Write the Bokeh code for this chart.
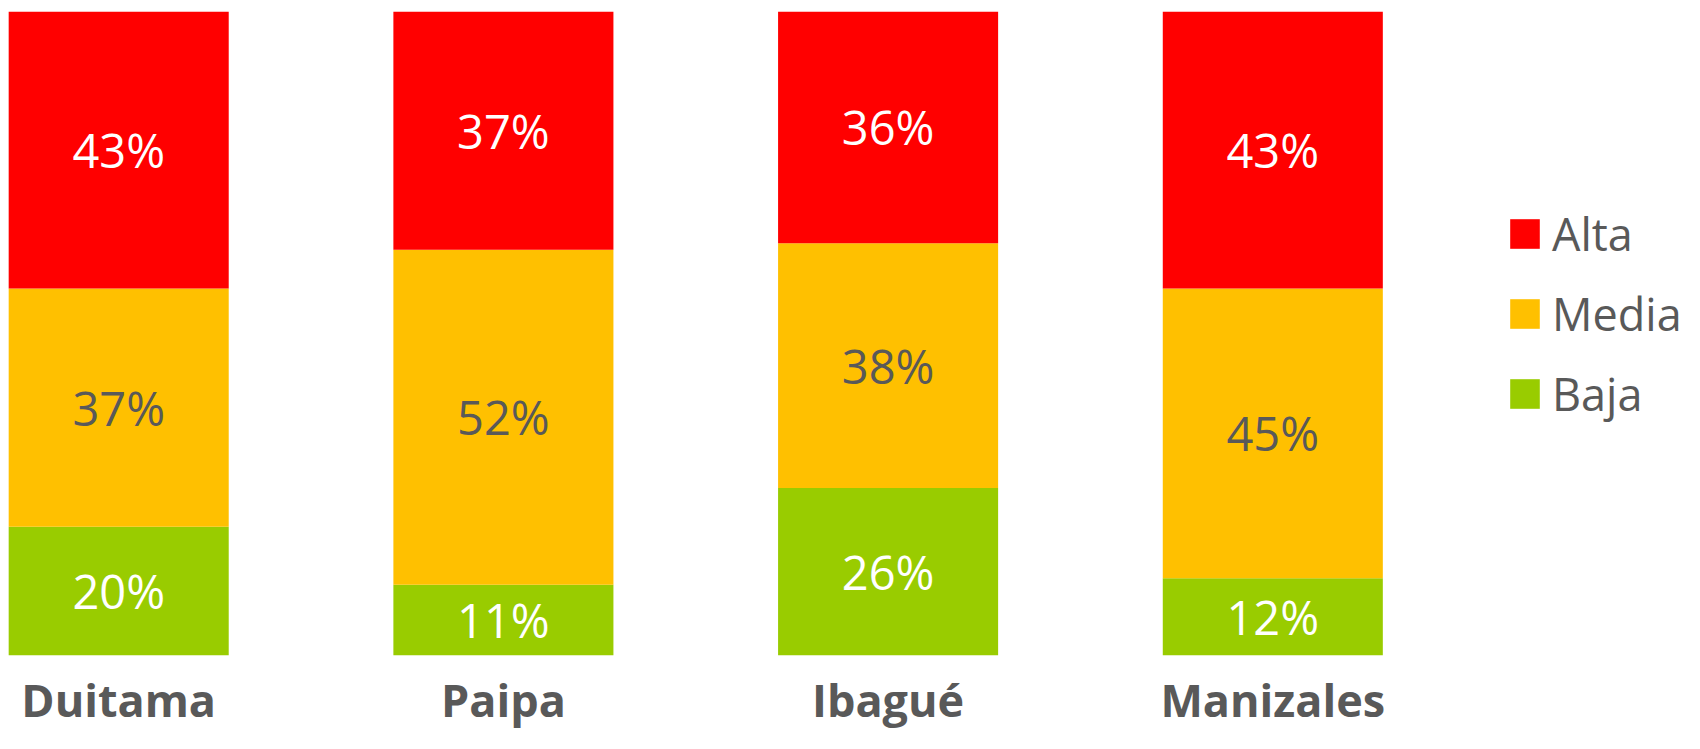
import numpy as np
from bokeh.plotting import figure
from bokeh.models import (ColumnDataSource, FixedTicker, Legend, LegendItem, Range1d)
from bokeh.core.properties import value
from bokeh.embed import file_html
from bokeh.resources import INLINE

categories = ["Duitama", "Paipa", "Ibagué", "Manizales"]
alta = [43, 37, 36, 43]
media = [37, 52, 38, 45]
baja = [20, 11, 26, 12]

series = ["Baja", "Media", "Alta"]
colors = {"Alta": "#FF0000", "Media": "#FFC000", "Baja": "#99CC00"}
text_colors = {"Alta": "#FFFFFF", "Media": "#595959", "Baja": "#FFFFFF"}

idx = list(range(len(categories)))
data = {"x": idx, "Baja": baja, "Media": media, "Alta": alta}
src = ColumnDataSource(data)

W, H = 1684, 733
# bar centres at 118 + 384.7*i px, bar width 220 px
x0 = -118.2 / 384.7
x1 = (W - 118.2) / 384.7
p = figure(width=W, height=H, output_backend="svg", toolbar_location=None,
           x_range=Range1d(x0, x1), y_range=Range1d(0, 100),
           min_border_left=0, min_border_right=0, min_border_top=11, min_border_bottom=78,
           outline_line_color=None, background_fill_color=None, border_fill_color=None)
p.grid.visible = False
p.yaxis.visible = False

rs = p.vbar_stack(series, x="x", width=0.572, source=src,
                  color=[colors[s] for s in series], line_color=None)

# data labels
bottom = np.zeros(len(idx))
for s in series:
    vals = np.array(data[s], dtype=float)
    centers = bottom + vals / 2
    bottom = bottom + vals
    lsrc = ColumnDataSource(dict(x=idx, y=centers, t=[f"{int(v)}%" for v in vals]))
    p.text(x="x", y="y", text="t", source=lsrc, text_align="center", text_baseline="middle",
           text_font=value("Open Sans"), text_font_size="47px", text_color=text_colors[s])

xa = p.xaxis[0]
xa.ticker = FixedTicker(ticks=idx)
xa.major_label_overrides = {i: c for i, c in zip(idx, categories)}
xa.axis_line_color = None
xa.major_tick_line_color = None
xa.minor_tick_line_color = None
xa.major_tick_in = 0
xa.major_tick_out = 0
xa.major_label_text_font = "Open Sans"
xa.major_label_text_font_style = "bold"
xa.major_label_text_font_size = "45px"
xa.major_label_text_color = "#595959"
xa.major_label_standoff = 13

items = [LegendItem(label=s, renderers=[rs[series.index(s)]]) for s in ["Alta", "Media", "Baja"]]
legend = Legend(items=items, location=(1506, 231), glyph_width=37, glyph_height=37,
                label_text_font="Open Sans", label_text_font_size="45px",
                label_text_color="#595959", label_standoff=9, spacing=19,
                padding=0, margin=0, border_line_color=None, background_fill_alpha=0)
p.add_layout(legend)

open("out.html", "w").write(file_html(p, INLINE))
